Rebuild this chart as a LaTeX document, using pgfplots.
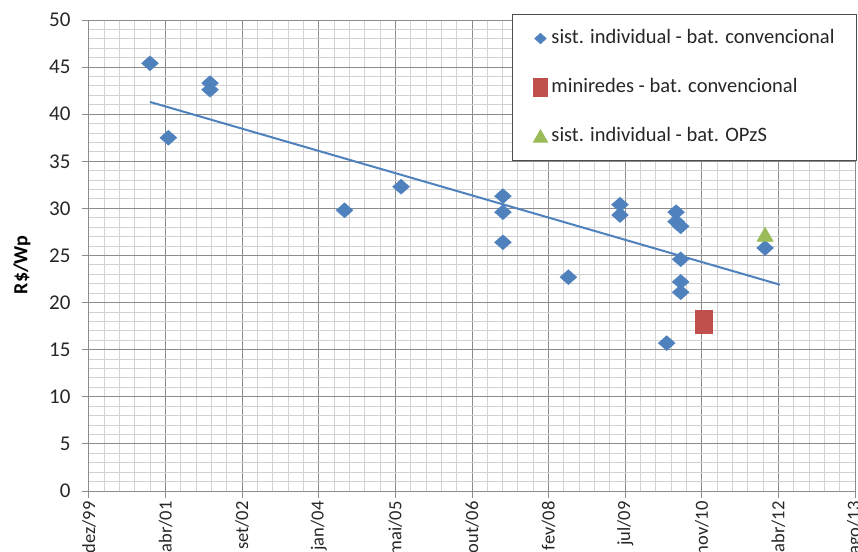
\documentclass[border=0pt]{standalone}
\usepackage{pgfplots}
\usepackage{pgfplotstable}
\pgfplotsset{compat=1.18}
\usepackage{fontspec}
\setmainfont{Carlito}

\definecolor{serieA}{HTML}{4F81BD}
\definecolor{serieB}{HTML}{C0504D}
\definecolor{serieC}{HTML}{9BBB59}
\definecolor{gradeMaior}{HTML}{8C8C8C}
\definecolor{gradeMenor}{HTML}{D2D2D2}

% custo (R$/Wp) por data (número de série de data)
\pgfplotstableread{
x y
36898 45.4
37018 37.5
37290 43.3
37290 42.6
38168 29.8
38537 32.3
39202 31.3
39202 29.6
39202 26.4
39629 22.7
39966 30.4
39966 29.3
40332 29.6
40332 28.6
40362 28.1
40362 24.6
40362 22.2
40362 21.1
40271 15.7
40913 25.8
}\individual

\pgfplotstableread{
x y
40510 18.0
}\miniredes

\pgfplotstableread{
x y
40913 27.0
}\opzs

% tendência linear do sistema individual
\pgfplotstableread{
x y
36898 41.3
41010 21.9
}\tendencia

\begin{document}
\begin{tikzpicture}
\path[use as bounding box] (-89pt,-60pt) rectangle (769pt,491pt);
\begin{axis}[
  at={(0pt,0pt)}, anchor=south west,
  scale only axis, width=766pt, height=471pt,
  xmin=36500, xmax=41500, ymin=0, ymax=50,
  xtick={36500,37000,...,41500},
  xticklabels={dez/99,abr/01,set/02,jan/04,mai/05,out/06,fev/08,jul/09,nov/10,abr/12,ago/13},
  minor x tick num=4,
  ytick={0,5,...,50}, minor y tick num=4,
  scaled x ticks=false,
  grid=both,
  major grid style={gradeMaior, line width=1pt},
  minor grid style={gradeMenor, line width=1pt},
  axis line style={gradeMaior, line width=1pt},
  tick align=outside, xtick pos=bottom, ytick pos=left,
  major tick length=7pt, minor tick length=0pt,
  tick style={gradeMaior, line width=1pt},
  /pgf/number format/assume math mode=true,
  x tick label style={rotate=90, anchor=east, font=\fontsize{18.5}{20}\selectfont, text=black!85},
  y tick label style={font=\fontsize{21}{23}\selectfont, text=black!85, xshift=-8pt},
  ylabel={R\$/Wp},
  ylabel style={at={(axis description cs:-0.0875,0.48)}, anchor=center,
    font=\bfseries\fontsize{20}{22}\selectfont},
  legend cell align=left,
  legend style={at={(axis description cs:0.5522,1.0127)}, anchor=north west,
    draw=black!70, line width=1pt, fill=white,
    font=\fontsize{20.5}{24}\selectfont, text=black!85,
    inner xsep=21pt, inner ysep=13.5pt, row sep=28pt,
    /tikz/every odd column/.append style={column sep=3pt},
    nodes={inner sep=1pt, text height=14pt, text depth=5pt}},
]
\addplot[only marks, color=serieA, mark=diamond*, mark size=7.5pt,
  mark options={xscale=1.5, fill=serieA},
  legend image code/.code={
    \draw[serieA, fill=serieA] plot[mark=diamond*, mark size=5pt, mark options={xscale=1.47}] coordinates {(0pt,0pt)};}]
  table[x=x, y=y] {\individual};
\addlegendentry{sist. individual - bat. convencional}

\addplot[only marks, color=serieB, mark=square*, mark size=8.5pt,
  mark options={yscale=1.35, fill=serieB},
  legend image code/.code={
    \draw[serieB, fill=serieB] plot[mark=square*, mark size=7pt] coordinates {(0pt,0pt)};}]
  table[x=x, y=y] {\miniredes};
\addlegendentry{miniredes - bat. convencional}

\addplot[only marks, color=serieC, mark=triangle*, mark size=9.5pt,
  mark options={fill=serieC},
  legend image code/.code={
    \draw[serieC, fill=serieC] plot[mark=triangle*, mark size=8pt] coordinates {(0pt,-1.5pt)};}]
  table[x=x, y=y] {\opzs};
\addlegendentry{sist. individual - bat. OPzS}

\addplot[no marks, color=serieA, line width=2pt, forget plot]
  table[x=x, y=y] {\tendencia};
\end{axis}
\end{tikzpicture}
\end{document}
